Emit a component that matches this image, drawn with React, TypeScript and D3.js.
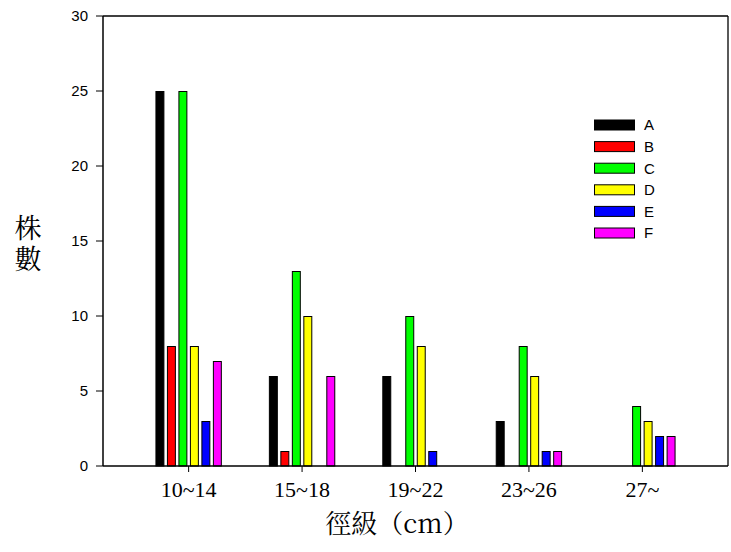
import React from "react";
import * as d3 from "d3";

const categories = ["10~14", "15~18", "19~22", "23~26", "27~"];
const seriesNames = ["A", "B", "C", "D", "E", "F"];
const seriesColors = ["#000000", "#ff0000", "#00ff00", "#ffff00", "#0000ff", "#ff00ff"];
const valuesA = [25, 6, 6, 3, 0];
const valuesB = [8, 1, 0, 0, 0];
const valuesC = [25, 13, 10, 8, 4];
const valuesD = [8, 10, 8, 6, 3];
const valuesE = [3, 0, 1, 1, 2];
const valuesF = [7, 6, 0, 1, 2];
const yTicks = [0, 5, 10, 15, 20, 25, 30];

const seriesValues = [valuesA, valuesB, valuesC, valuesD, valuesE, valuesF];

export default function App() {
  const W = 731, H = 552;
  const left = 103, right = 728, top = 16, bottom = 466;
  const x0 = d3.scaleBand<string>().domain(categories).range([left, right]).paddingInner(0).paddingOuter(0.255);
  const x1 = d3.scaleBand<string>().domain(seriesNames).range([-33.2, 33.2]).paddingInner(0.22);
  const y = d3.scaleLinear().domain([0, 30]).range([bottom, top]);
  const cjk = "'Noto Serif CJK TC', 'Noto Sans CJK TC', serif";

  return (
    <svg width={W} height={H} style={{ position: "absolute", left: 0, top: 0, background: "#fff" }}>
      {/* bars */}
      {categories.map((c, ci) => {
        const cx = x0(c)! + x0.bandwidth() / 2;
        return (
          <g key={c}>
            {seriesNames.map((s, si) => {
              const v = seriesValues[si][ci];
              if (v <= 0) return null;
              const bx = cx + x1(s)!;
              return (
                <rect
                  key={s}
                  x={bx + 0.5}
                  y={y(v) + 0.5}
                  width={x1.bandwidth() - 1}
                  height={y(0) - y(v) - 0.5}
                  fill={seriesColors[si]}
                  stroke="#000"
                  strokeWidth={1}
                />
              );
            })}
          </g>
        );
      })}
      {/* frame */}
      <line x1={left} x2={right} y1={top} y2={top} stroke="#000" strokeWidth={1.3} />
      <line x1={right} x2={right} y1={top} y2={bottom} stroke="#000" strokeWidth={1.3} />
      <line x1={left} x2={left} y1={top} y2={bottom} stroke="#000" strokeWidth={1.5} />
      <line x1={left} x2={right} y1={bottom} y2={bottom} stroke="#000" strokeWidth={1.5} />
      {/* y ticks */}
      {yTicks.map((t) => (
        <g key={t}>
          <line x1={left - 7} x2={left} y1={y(t)} y2={y(t)} stroke="#000" strokeWidth={1} />
          <text
            x={88}
            y={y(t)}
            dy="0.35em"
            textAnchor="end"
            fontFamily="'Liberation Sans', Arial, sans-serif"
            fontSize={15}
            fill="#000"
          >
            {t}
          </text>
        </g>
      ))}
      {/* x ticks */}
      {categories.map((c) => {
        const cx = x0(c)! + x0.bandwidth() / 2;
        return (
          <g key={c}>
            <line x1={cx} x2={cx} y1={bottom} y2={bottom + 6} stroke="#000" strokeWidth={1} />
            <text
              x={cx}
              y={497}
              textAnchor="middle"
              fontFamily="'Liberation Serif', 'Times New Roman', serif"
              fontSize={22}
              fill="#000"
            >
              {c}
            </text>
          </g>
        );
      })}
      {/* axis titles */}
      <text x={397} y={533} textAnchor="middle" fontFamily={cjk} fontSize={26} fill="#000">
        徑級（cm）
      </text>
      <text
        x={28}
        y={214}
        fontFamily={cjk}
        fontSize={27}
        fill="#000"
        style={{ writingMode: "vertical-rl", letterSpacing: "4px" }}
      >
        株數
      </text>
      {/* legend */}
      {seriesNames.map((s, i) => {
        const cy = 125 + i * 21.6;
        return (
          <g key={s}>
            <rect x={594.5} y={cy - 5} width={40} height={10} fill={seriesColors[i]} stroke="#000" strokeWidth={1} />
            <text
              x={644}
              y={cy}
              dy="0.36em"
              fontFamily="'Liberation Sans', Arial, sans-serif"
              fontSize={15}
              fill="#000"
            >
              {s}
            </text>
          </g>
        );
      })}
    </svg>
  );
}
